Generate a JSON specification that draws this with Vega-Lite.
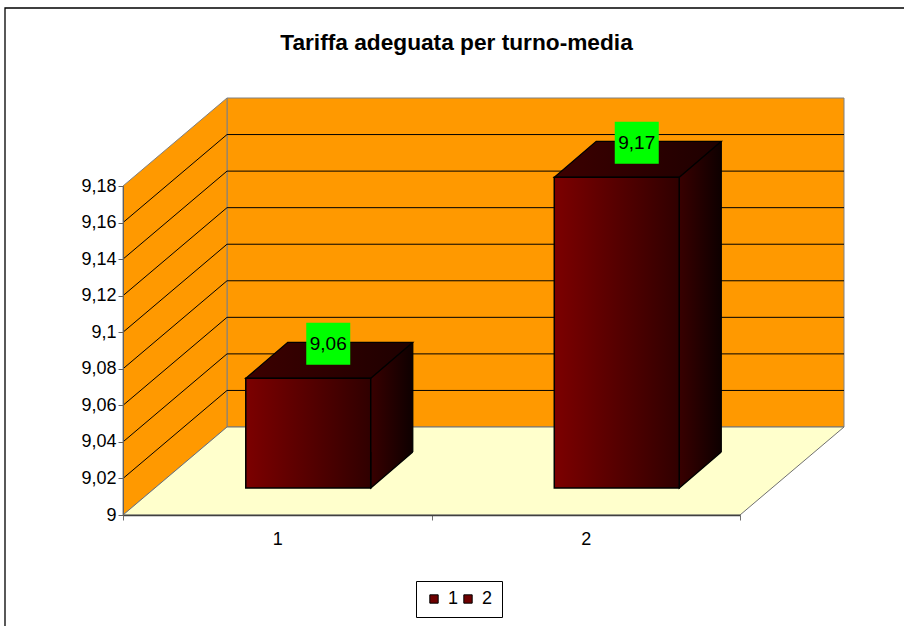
{
  "$schema": "https://vega.github.io/schema/vega-lite/v6.json",
  "width": 617,
  "height": 329,
  "autosize": {"type": "none"},
  "padding": {"left": 123, "top": 186, "right": 164, "bottom": 111},
  "background": "white",
  "title": {
    "text": "Tariffa adeguata per turno-media",
    "font": "Liberation Sans",
    "fontSize": 22.7,
    "fontWeight": "bold",
    "color": "black",
    "anchor": "middle",
    "frame": "group",
    "dx": 25,
    "offset": -47
  },
  "config": {
    "view": {"stroke": null},
    "axisY": {"labelOverlap": false, "labelBound": false},
    "locale": {"number": {"decimal": ",", "thousands": ".", "grouping": [3], "currency": ["€", ""]}}
  },
  "datasets": {
    "medie": [
      {"categoria": "1", "valore": 9.06},
      {"categoria": "2", "valore": 9.17}
    ],
    "tacche": [
      {"tacca": 9.02}, {"tacca": 9.04}, {"tacca": 9.06}, {"tacca": 9.08},
      {"tacca": 9.10}, {"tacca": 9.12}, {"tacca": 9.14}, {"tacca": 9.16}
    ],
    "sfondo": [{"elemento": "pareti"}]
  },
  "data": {"name": "medie"},
  "layer": [
    {
      "data": {"name": "sfondo"},
      "mark": {"type": "rect", "fill": "#ff9900", "stroke": "#808080", "strokeWidth": 1, "xOffset": 104, "x2Offset": 104, "yOffset": -88, "y2Offset": -88},
      "encoding": {
        "x": {"value": 0},
        "x2": {"value": "width"},
        "y": {
          "datum": 9.18,
          "type": "quantitative",
          "scale": {"domain": [9, 9.18], "nice": false, "zero": false},
          "axis": {
            "title": null,
            "values": [9, 9.02, 9.04, 9.06, 9.08, 9.1, 9.12, 9.14, 9.16, 9.18],
            "tickCount": 20,
            "format": ".2~f",
            "labelOverlap": false,
            "labelBound": false,
            "labelFont": "Liberation Sans",
            "labelFontSize": 18,
            "labelColor": "black",
            "labelPadding": 2,
            "domainColor": "#606060",
            "tickColor": "#606060",
            "tickSize": 5,
            "grid": false,
            "zindex": 1
          }
        },
        "y2": {"datum": 9}
      }
    },
    {
      "data": {"name": "sfondo"},
      "mark": {"type": "point", "shape": "M0,0L0,-329L104,-417L104,-88Z", "size": 4, "filled": true, "fill": "#ff9900", "stroke": "#808080", "strokeWidth": 1, "opacity": 1},
      "encoding": {
        "x": {"value": 0},
        "y": {"datum": 9, "type": "quantitative"}
      }
    },
    {
      "data": {"name": "sfondo"},
      "mark": {"type": "point", "shape": "M0,0L617,0L721,-88L104,-88Z", "size": 4, "filled": true, "fill": "#ffffcc", "stroke": "#707070", "strokeWidth": 1, "opacity": 1},
      "encoding": {
        "x": {"value": 0},
        "y": {"datum": 9, "type": "quantitative"}
      }
    },
    {
      "data": {"name": "tacche"},
      "mark": {"type": "rule", "stroke": "black", "strokeWidth": 1, "xOffset": 104, "x2Offset": 104, "yOffset": -88, "y2Offset": -88},
      "encoding": {
        "x": {"value": 0},
        "x2": {"value": "width"},
        "y": {"field": "tacca", "type": "quantitative"},
        "y2": {"field": "tacca"}
      }
    },
    {
      "data": {"name": "tacche"},
      "mark": {"type": "rule", "stroke": "black", "strokeWidth": 1, "x2Offset": 104, "y2Offset": -88},
      "encoding": {
        "x": {"value": 0},
        "x2": {"value": 0},
        "y": {"field": "tacca", "type": "quantitative"},
        "y2": {"field": "tacca"}
      }
    },
    {
      "mark": {
        "type": "bar",
        "width": {"band": 0.405},
        "xOffset": 73,
        "yOffset": -63,
        "y2Offset": -63,
        "fill": {"gradient": "linear", "x1": 0, "y1": 0, "x2": 1, "y2": 0, "stops": [{"offset": 0, "color": "#380000"}, {"offset": 0.665, "color": "#380000"}, {"offset": 1, "color": "#0e0000"}]},
        "strokeWidth": 0
      },
      "encoding": {
        "x": {
          "field": "categoria",
          "type": "nominal",
          "scale": {"domain": ["1", "2"], "paddingInner": 0, "paddingOuter": 0},
          "axis": {
            "title": null,
            "labelAngle": 0,
            "tickBand": "extent",
            "labelFont": "Liberation Sans",
            "labelFontSize": 18,
            "labelColor": "black",
            "labelPadding": 10,
            "domainColor": "#404040",
            "domainWidth": 1.5,
            "tickColor": "#707070",
            "tickSize": 5,
            "grid": false,
            "zindex": 1
          }
        },
        "y": {"field": "valore", "type": "quantitative"},
        "y2": {"datum": 9}
      }
    },
    {
      "mark": {
        "type": "point",
        "shape": "M62.5,-36L62.5,0L104.5,-36",
        "size": 4,
        "filled": true,
        "opacity": 1,
        "xOffset": 31,
        "yOffset": -27,
        "fill": {"gradient": "linear", "x1": 0, "y1": 0, "x2": 1, "y2": 0, "stops": [{"offset": 0, "color": "#380000"}, {"offset": 1, "color": "#0e0000"}]},
        "stroke": "black",
        "strokeWidth": 1.3
      },
      "encoding": {
        "x": {"field": "categoria", "type": "nominal"},
        "y": {"datum": 9, "type": "quantitative"}
      }
    },
    {
      "mark": {
        "type": "point",
        "shape": "M-62.5,0L62.5,0L104.5,-36L-20.5,-36Z",
        "size": 4,
        "filled": true,
        "opacity": 1,
        "xOffset": 31,
        "yOffset": -27,
        "fill": {"gradient": "linear", "x1": 0, "y1": 0, "x2": 1, "y2": 0, "stops": [{"offset": 0, "color": "#3c0000"}, {"offset": 1, "color": "#1e0000"}]},
        "stroke": "black",
        "strokeWidth": 1.3
      },
      "encoding": {
        "x": {"field": "categoria", "type": "nominal"},
        "y": {"field": "valore", "type": "quantitative"}
      }
    },
    {
      "mark": {"type": "rule", "stroke": "black", "strokeWidth": 1.3, "xOffset": 135.5, "yOffset": -63, "y2Offset": -63},
      "encoding": {
        "x": {"field": "categoria", "type": "nominal"},
        "y": {"field": "valore", "type": "quantitative"},
        "y2": {"datum": 9}
      }
    },
    {
      "mark": {
        "type": "bar",
        "width": {"band": 0.405},
        "xOffset": 31,
        "yOffset": -27,
        "y2Offset": -27,
        "fill": {"gradient": "linear", "x1": 0, "y1": 0, "x2": 1, "y2": 0, "stops": [{"offset": 0, "color": "#7c0000"}, {"offset": 1, "color": "#300000"}]},
        "stroke": "black",
        "strokeWidth": 1.5
      },
      "encoding": {
        "x": {"field": "categoria", "type": "nominal"},
        "y": {"field": "valore", "type": "quantitative"},
        "y2": {"datum": 9}
      }
    },
    {
      "mark": {"type": "point", "shape": "square", "opacity": 0, "filled": true},
      "encoding": {
        "x": {"field": "categoria", "type": "nominal"},
        "y": {"field": "valore", "type": "quantitative"},
        "fill": {
          "field": "categoria",
          "type": "nominal",
          "scale": {"domain": ["1", "2"], "range": ["#6e0000", "#6e0000"]},
          "legend": {
            "title": null,
            "orient": "none",
            "legendX": 293,
            "legendY": 395,
            "direction": "horizontal",
            "strokeColor": "black",
            "padding": 9,
            "symbolType": "square",
            "symbolSize": 70,
            "symbolOpacity": 1,
            "labelFont": "Liberation Sans",
            "labelFontSize": 18,
            "labelColor": "black",
            "labelOffset": 5,
            "columnPadding": 0,
            "encode": {"symbols": {"update": {"stroke": {"value": "black"}, "strokeWidth": {"value": 1}, "opacity": {"value": 1}}}}
          }
        }
      }
    },
    {
      "mark": {"type": "point", "shape": "M-22,-21L22,-21L22,21L-22,21Z", "size": 4, "filled": true, "opacity": 1, "fill": "#00ff00", "strokeWidth": 0, "xOffset": 51, "yOffset": -61.5},
      "encoding": {
        "x": {"field": "categoria", "type": "nominal"},
        "y": {"field": "valore", "type": "quantitative"}
      }
    },
    {
      "mark": {"type": "text", "font": "Liberation Sans", "fontSize": 19, "color": "black", "align": "center", "baseline": "middle", "xOffset": 51, "yOffset": -61},
      "encoding": {
        "x": {"field": "categoria", "type": "nominal"},
        "y": {"field": "valore", "type": "quantitative"},
        "text": {"field": "valore", "type": "quantitative", "format": ".2f"}
      }
    },
    {
      "data": {"name": "sfondo"},
      "mark": {"type": "rect", "fill": "transparent", "stroke": "black", "strokeWidth": 1.3, "xOffset": -118, "x2Offset": 200, "yOffset": -178, "y2Offset": 200},
      "encoding": {
        "x": {"value": 0},
        "x2": {"value": "width"},
        "y": {"datum": 9.18, "type": "quantitative"},
        "y2": {"datum": 9}
      }
    }
  ]
}
